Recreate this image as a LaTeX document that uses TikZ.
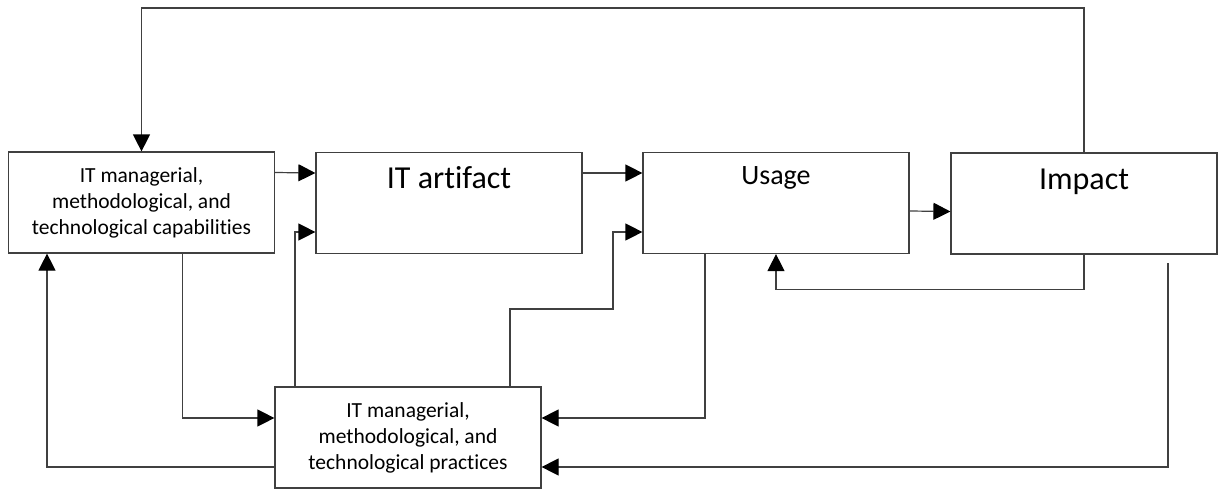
\documentclass[tikz,border=0pt]{standalone}
\usepackage{fontspec}
\setmainfont{Carlito}[Ligatures=NoCommon]
\usetikzlibrary{arrows.meta}

\tikzset{
  box/.style={draw=black!75, line width=1.2pt, minimum width=266pt, minimum height=101pt,
    inner sep=0pt, align=center, font=\fontsize{21.5}{26}\selectfont},
  arr/.style={draw=black!75, line width=1.2pt, -{Triangle[length=17pt,width=17pt,black]}},
  big/.style={anchor=base, font=\fontsize{32}{38}\selectfont},
}

\begin{document}
\begin{tikzpicture}[x=1pt, y=-1pt]
    \useasboundingbox (0,0) rectangle (1219,490);
    \node [box] (cap) at (141.5,202.5) {IT managerial,\\methodological, and\\technological capabilities};
    \node [box, label={[big, yshift=-37pt]north:IT artifact}] (art) at (449,203) {};
    \node [box, label={[big, yshift=-33pt, font=\fontsize{28}{34}\selectfont]north:Usage}] (use) at (776,203) {};
    \node [box, label={[big, yshift=-37.5pt]north:Impact}] (imp) at (1084,203.5) {};
    \node [box] (prac) at (408,437.5) {IT managerial,\\methodological, and\\technological practices};
    \coordinate (top) at (0,8);
    \coordinate (jog) at (613,309);
    \coordinate (fb) at (1168,263);
    % feedback from impact to capabilities
    \draw [arr] (imp.north) -- (imp.north |- top) -| (cap.north);
    \draw [arr] ([yshift=30pt]cap.east) -- ([yshift=30pt]art.west);
    \draw [arr] ([yshift=30pt]art.east) -- ([yshift=30pt]use.west);
    \draw [arr] ([yshift=-8pt]use.east) -- ([yshift=-8pt]imp.west);
    \draw [arr] (imp.south) -- ++(0,35) -| (use.south);
    % practices loop
    \draw [arr] ([xshift=41pt]cap.south) |- ([yshift=19.5pt]prac.west);
    \draw [arr] ([xshift=-113pt]prac.north) |- ([yshift=-29pt]art.west);
    \draw [arr] ([xshift=102pt]prac.north) |- (jog) |- ([yshift=-29pt]use.west);
    \draw [arr] ([xshift=-71pt]use.south) |- ([yshift=19.5pt]prac.east);
    \draw [arr] (fb) |- ([yshift=-29.5pt]prac.east);
    \draw [arr] ([yshift=-29.5pt]prac.west) -| ([xshift=-94.5pt]cap.south);
\end{tikzpicture}
\end{document}
